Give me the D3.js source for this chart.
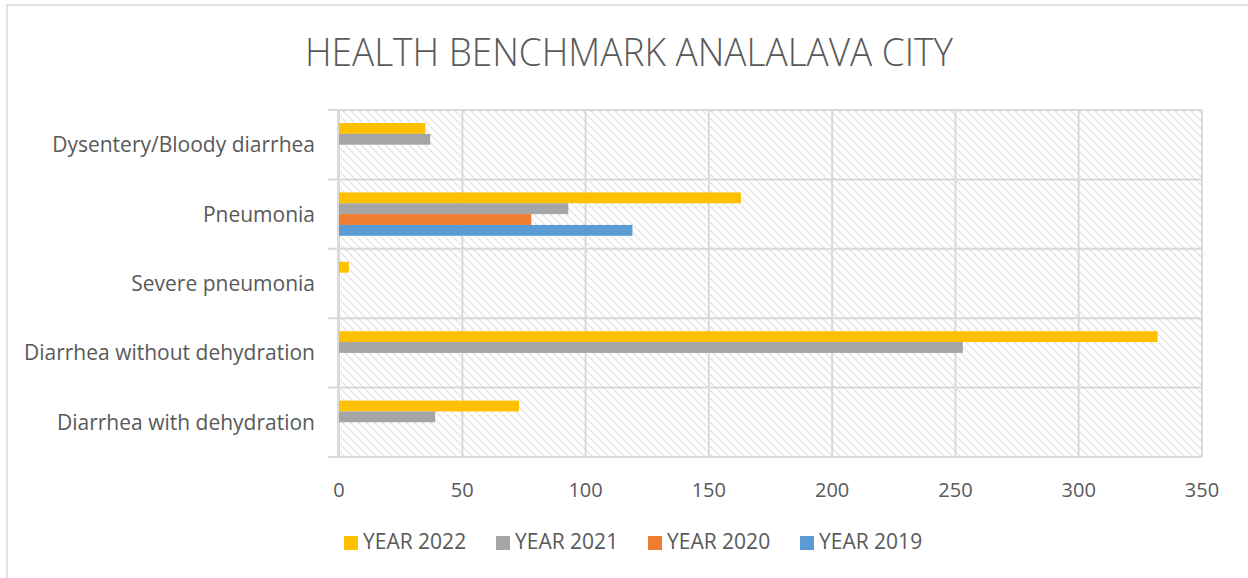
<!DOCTYPE html>
<html>
<head>
<meta charset="utf-8">
<script src="https://cdn.jsdelivr.net/npm/d3@7"></script>
<style>
  html, body { margin: 0; padding: 0; background: #fff; }
  svg { display: block; }
  text { font-family: "Open Sans", "Liberation Sans", sans-serif; fill: #595959; }
</style>
</head>
<body>
<svg id="chart" width="1248" height="578"></svg>
<script>
const title = "HEALTH BENCHMARK ANALALAVA CITY";
const categories = ["Dysentery/Bloody diarrhea", "Pneumonia", "Severe pneumonia", "Diarrhea without dehydration", "Diarrhea with dehydration"];
const seriesNames = ["YEAR 2022", "YEAR 2021", "YEAR 2020", "YEAR 2019"];
const seriesColors = ["#FFC000", "#A5A5A5", "#ED7D31", "#5B9BD5"];
const year2022 = [35, 163, 4, 332, 73];
const year2021 = [37, 93, 0, 253, 39];
const year2020 = [0, 78, 0, 0, 0];
const year2019 = [0, 119, 0, 0, 0];
const xTicks = [0, 50, 100, 150, 200, 250, 300, 350];

const seriesValues = [year2022, year2021, year2020, year2019];

const svg = d3.select("#chart");
const W = 1248, H = 578;
const plot = { left: 338, right: 1202, top: 110, bottom: 457 };

// chart border
svg.append("path")
  .attr("d", `M7,${H + 5} L7,5 L${W + 5},5`)
  .attr("fill", "none").attr("stroke", "#d9d9d9").attr("stroke-width", 1.5);

// hatch pattern
const defs = svg.append("defs");
const pat = defs.append("pattern")
  .attr("id", "hatch").attr("patternUnits", "userSpaceOnUse")
  .attr("width", 8).attr("height", 8);
pat.append("path").attr("d", "M-2,-2 L10,10 M-6,2 L2,10 M6,-2 L14,6")
  .attr("stroke", "#dadada").attr("stroke-width", 1.6)
  .attr("stroke-dasharray", "1.5,1");

const x = d3.scaleLinear().domain([0, 350]).range([plot.left + 1, plot.right]);
const y = d3.scaleBand().domain(categories).range([plot.top, plot.bottom]);
const inner = d3.scaleBand().domain(seriesNames).range([0, y.bandwidth()]).paddingOuter(1.2);

// plot background
svg.append("rect")
  .attr("x", plot.left).attr("y", plot.top)
  .attr("width", plot.right - plot.left).attr("height", plot.bottom - plot.top)
  .attr("fill", "url(#hatch)");

// vertical gridlines
svg.append("g").selectAll("line").data(xTicks).join("line")
  .attr("x1", d => x(d)).attr("x2", d => x(d))
  .attr("y1", plot.top).attr("y2", plot.bottom)
  .attr("stroke", "#d9d9d9").attr("stroke-width", 2);

// horizontal category boundaries
const bounds = categories.map(c => y(c)).concat([plot.bottom]);
svg.append("g").selectAll("line").data(bounds).join("line")
  .attr("x1", plot.left - 10).attr("x2", plot.right)
  .attr("y1", d => d).attr("y2", d => d)
  .attr("stroke", "#d9d9d9").attr("stroke-width", 2);

// left axis line
svg.append("line")
  .attr("x1", plot.left).attr("x2", plot.left)
  .attr("y1", plot.top).attr("y2", plot.bottom)
  .attr("stroke", "#d9d9d9").attr("stroke-width", 2);

// bars
seriesNames.forEach((s, si) => {
  svg.append("g").selectAll("rect").data(categories).join("rect")
    .attr("x", x(0))
    .attr("y", c => y(c) + inner(s))
    .attr("width", (c, ci) => x(seriesValues[si][ci]) - x(0))
    .attr("height", inner.bandwidth())
    .attr("fill", seriesColors[si]);
});

// x tick labels
svg.append("g").selectAll("text").data(xTicks).join("text")
  .attr("x", d => x(d)).attr("y", 497)
  .attr("text-anchor", "middle").attr("font-size", 20)
  .text(d => d);

// category labels
svg.append("g").selectAll("text").data(categories).join("text")
  .attr("x", 315).attr("y", c => y(c) + y.bandwidth() / 2 + 7.5)
  .attr("text-anchor", "end").attr("font-size", 21)
  .text(c => c);

// title
svg.append("text")
  .attr("x", 629).attr("y", 66)
  .attr("text-anchor", "middle").attr("font-size", 39).attr("font-weight", 300)
  .attr("textLength", 648).attr("lengthAdjust", "spacingAndGlyphs")
  .text(title);

// legend
const legendX = d3.scalePoint().domain(seriesNames).range([344, 800]);
const lg = svg.append("g").selectAll("g").data(seriesNames).join("g")
  .attr("transform", d => `translate(${legendX(d)},536)`);
lg.append("rect").attr("width", 14).attr("height", 14)
  .attr("fill", (d, i) => seriesColors[i]);
lg.append("text").attr("x", 19).attr("y", 13).attr("font-size", 21)
  .text(d => d);
</script>
</body>
</html>
